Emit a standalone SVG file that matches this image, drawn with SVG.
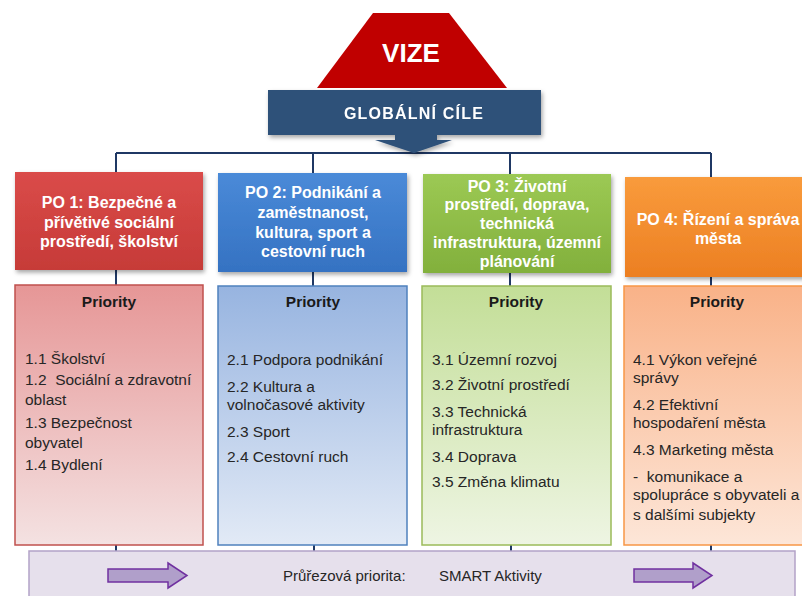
<svg xmlns="http://www.w3.org/2000/svg" width="802" height="596" viewBox="0 0 802 596">
  <defs>
    <filter id="shadow" x="-10%" y="-10%" width="125%" height="130%">
      <feDropShadow dx="1.5" dy="2.5" stdDeviation="2" flood-color="#000" flood-opacity="0.35"/>
    </filter>
    <linearGradient id="g-po1" x1="0" y1="0" x2="0" y2="1">
      <stop offset="0" stop-color="#DA4B49"/><stop offset="1" stop-color="#C63B38"/>
    </linearGradient>
    <linearGradient id="g-po2" x1="0" y1="0" x2="0" y2="1">
      <stop offset="0" stop-color="#4A8AD8"/><stop offset="1" stop-color="#3572C2"/>
    </linearGradient>
    <linearGradient id="g-po3" x1="0" y1="0" x2="0" y2="1">
      <stop offset="0" stop-color="#9CC954"/><stop offset="1" stop-color="#82B03C"/>
    </linearGradient>
    <linearGradient id="g-po4" x1="0" y1="0" x2="0" y2="1">
      <stop offset="0" stop-color="#F99B3C"/><stop offset="1" stop-color="#EC7F22"/>
    </linearGradient>
    <linearGradient id="g-pr1" x1="0" y1="0" x2="0" y2="1">
      <stop offset="0" stop-color="#E69696"/><stop offset="1" stop-color="#F4E2E2"/>
    </linearGradient>
    <linearGradient id="g-pr2" x1="0" y1="0" x2="0" y2="1">
      <stop offset="0" stop-color="#97B4E0"/><stop offset="1" stop-color="#E2EAF6"/>
    </linearGradient>
    <linearGradient id="g-pr3" x1="0" y1="0" x2="0" y2="1">
      <stop offset="0" stop-color="#C3DE97"/><stop offset="1" stop-color="#EEF5E3"/>
    </linearGradient>
    <linearGradient id="g-pr4" x1="0" y1="0" x2="0" y2="1">
      <stop offset="0" stop-color="#F9B288"/><stop offset="1" stop-color="#FDE6D8"/>
    </linearGradient>
  </defs>
  <style>
    .title { font-family: "Liberation Sans", Arial, sans-serif; font-weight: bold; fill: #FFFFFF; font-size: 16px; text-anchor: middle; }
    .head { font-family: "Liberation Sans", Arial, sans-serif; font-weight: bold; fill: #1A1A1A; font-size: 15.5px; text-anchor: middle; }
    .item { font-family: "Liberation Sans", Arial, sans-serif; fill: #262626; font-size: 15.5px; white-space: pre; }
    .band { font-family: "Liberation Sans", Arial, sans-serif; fill: #262626; font-size: 15px; }
    .conn { stroke: #1F3864; stroke-width: 2; fill: none; }
    .barrow { fill: #B09FCA; stroke: #7030A0; stroke-width: 1.5; }
  </style>

  <rect width="802" height="596" fill="#FFFFFF"/>

  <!-- connectors -->
  <g id="connectors">
    <path class="conn" d="M116 153 H711"/>
    <path class="conn" d="M116 153 V172 M313 153 V173 M510 153 V174 M711 153 V177"/>
    <path class="conn" d="M116 270 V285 M313 272 V286 M510 273 V286 M711 277 V286"/>
    <path class="conn" d="M116 545 V551 M314 545 V551 M511 545 V551 M711 545 V551"/>
  </g>

  <!-- vision -->
  <g id="vize">
    <polygon points="373,13 449,13 507,88 317,88" fill="#C00000"/>
    <text x="411" y="62" font-family="'Liberation Sans', Arial, sans-serif" font-weight="bold" font-size="26" fill="#FFFFFF" text-anchor="middle">VIZE</text>
  </g>

  <!-- global goals -->
  <g id="globalni-cile" filter="url(#shadow)">
    <rect x="268" y="90" width="273" height="45" fill="#2F5179"/>
    <polygon points="395,135 437,135 437,140 452,140 414,153 375,140 395,140" fill="#2F5179"/>
    <text x="414" y="119" class="title" letter-spacing="1.2">GLOBÁLNÍ CÍLE</text>
  </g>

  <!-- PO 1 -->
  <g id="po1">
    <rect x="15" y="172" width="188" height="98" fill="url(#g-po1)" filter="url(#shadow)"/>
    <text class="title"><tspan x="109" y="208">PO 1: Bezpečné a</tspan><tspan x="109" y="228">přívětivé sociální</tspan><tspan x="109" y="247">prostředí, školství</tspan></text>
  </g>
  <g id="po1-priority">
    <rect x="15" y="285" width="188" height="260" fill="url(#g-pr1)" stroke="#C0504D" stroke-width="1.5"/>
    <text x="109" y="307" class="head">Priority</text>
    <text class="item" xml:space="preserve"><tspan x="25" y="364">1.1 Školství</tspan><tspan x="25" y="385">1.2  Sociální a zdravotní</tspan><tspan x="25" y="405">oblast</tspan><tspan x="25" y="428">1.3 Bezpečnost</tspan><tspan x="25" y="448">obyvatel</tspan><tspan x="25" y="470">1.4 Bydlení</tspan></text>
  </g>

  <!-- PO 2 -->
  <g id="po2">
    <rect x="218" y="173" width="189" height="99" fill="url(#g-po2)" filter="url(#shadow)"/>
    <text class="title"><tspan x="313" y="198">PO 2: Podnikání a</tspan><tspan x="313" y="218">zaměstnanost,</tspan><tspan x="313" y="238">kultura, sport a</tspan><tspan x="313" y="257">cestovní ruch</tspan></text>
  </g>
  <g id="po2-priority">
    <rect x="218" y="286" width="189" height="259" fill="url(#g-pr2)" stroke="#4F81BD" stroke-width="1.5"/>
    <text x="313" y="307" class="head">Priority</text>
    <text class="item"><tspan x="227" y="365">2.1 Podpora podnikání</tspan><tspan x="227" y="392">2.2 Kultura a</tspan><tspan x="227" y="410">volnočasové aktivity</tspan><tspan x="227" y="437">2.3 Sport</tspan><tspan x="227" y="462">2.4 Cestovní ruch</tspan></text>
  </g>

  <!-- PO 3 -->
  <g id="po3">
    <rect x="423" y="174" width="188" height="99" fill="url(#g-po3)" filter="url(#shadow)"/>
    <text class="title"><tspan x="517" y="192">PO 3: Životní</tspan><tspan x="517" y="210">prostředí, doprava,</tspan><tspan x="517" y="229">technická</tspan><tspan x="517" y="248">infrastruktura, územní</tspan><tspan x="517" y="267">plánování</tspan></text>
  </g>
  <g id="po3-priority">
    <rect x="422" y="286" width="189" height="259" fill="url(#g-pr3)" stroke="#9BBB59" stroke-width="1.5"/>
    <text x="516" y="307" class="head">Priority</text>
    <text class="item"><tspan x="432" y="365">3.1 Územní rozvoj</tspan><tspan x="432" y="390">3.2 Životní prostředí</tspan><tspan x="432" y="417">3.3 Technická</tspan><tspan x="432" y="435">infrastruktura</tspan><tspan x="432" y="462">3.4 Doprava</tspan><tspan x="432" y="487">3.5 Změna klimatu</tspan></text>
  </g>

  <!-- PO 4 -->
  <g id="po4">
    <rect x="625" y="177" width="186" height="100" fill="url(#g-po4)" filter="url(#shadow)"/>
    <text class="title"><tspan x="718" y="225">PO 4: Řízení a správa</tspan><tspan x="718" y="244">města</tspan></text>
  </g>
  <g id="po4-priority">
    <rect x="624" y="286" width="190" height="259" fill="url(#g-pr4)" stroke="#F79646" stroke-width="1.5"/>
    <text x="717" y="307" class="head">Priority</text>
    <text class="item" xml:space="preserve"><tspan x="633" y="365">4.1 Výkon veřejné</tspan><tspan x="633" y="383">správy</tspan><tspan x="633" y="410">4.2 Efektivní</tspan><tspan x="633" y="428">hospodaření města</tspan><tspan x="633" y="455">4.3 Marketing města</tspan><tspan x="633" y="482">-  komunikace a</tspan><tspan x="633" y="500">spolupráce s obyvateli a</tspan><tspan x="633" y="520">s dalšími subjekty</tspan></text>
  </g>

  <!-- cross-cutting priority band -->
  <g id="prurezova-priorita">
    <rect x="29" y="551" width="766" height="50" fill="#E6E0EC" stroke="#B3A2C7" stroke-width="1.5"/>
    <polygon class="barrow" points="108,569 168,569 168,563 187,575.5 168,588 168,582 108,582"/>
    <polygon class="barrow" points="634,569 693,569 693,563 712,575.5 693,588 693,582 634,582"/>
    <text x="283" y="581" class="band">Průřezová priorita:</text>
    <text x="439" y="581" class="band">SMART Aktivity</text>
  </g>
</svg>
